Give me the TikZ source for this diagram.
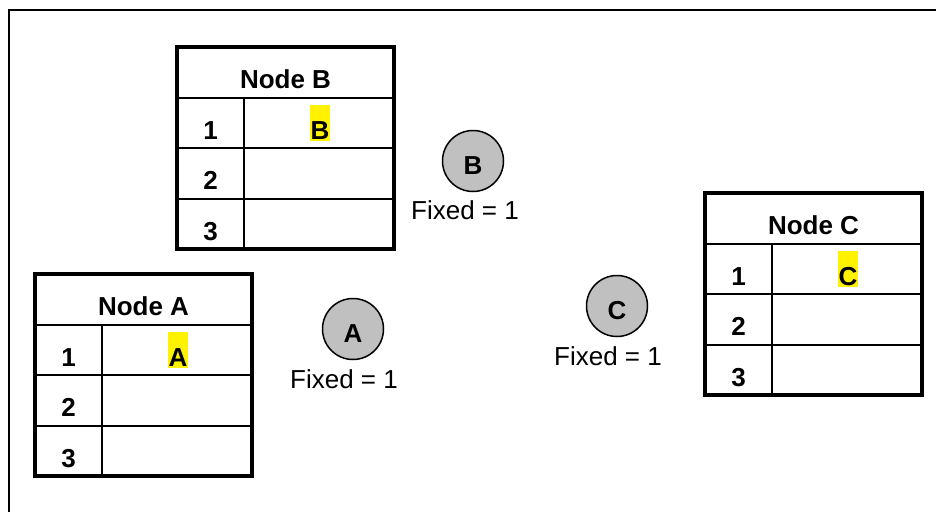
\documentclass[tikz,border=0pt]{standalone}
\usepackage{fontspec}
\setmainfont{Liberation Sans}
\definecolor{ballgray}{HTML}{C0C0C0}
\tikzset{
  outerline/.style={line width=4.5pt},
  innerline/.style={line width=2pt},
  framestyle/.style={line width=2pt},
  celltext/.style={anchor=base, inner sep=0pt, font=\bfseries\fontsize{26}{30}\selectfont},
  hilite/.style={celltext, fill=yellow, inner xsep=1pt, text height=34pt, text depth=1.5pt},
  ball/.style={circle, draw, line width=1.5pt, fill=ballgray, minimum size=61pt, inner sep=0pt,
    text height=27pt, text depth=0pt, font=\bfseries\fontsize{26}{30}\selectfont},
  fixedlabel/.style={anchor=base, inner sep=0pt, font=\fontsize{26}{30}\selectfont}
}
\newcommand\mytable[5]{%
  \begin{scope}[shift={(#2,#3)}]
    \draw[innerline] (0,50.5) -- (217,50.5) (0,101) -- (217,101) (0,151.5) -- (217,151.5) (67,50.5) -- (67,202);
    \draw[outerline] (0,0) rectangle (217,202);
    \node[celltext] (#1title) at (108.5,41.5) {#4};
    \node[celltext] (#1one) at (33.5,92) {1};
    \node[celltext] (#1two) at (33.5,142.5) {2};
    \node[celltext] (#1three) at (33.5,193) {3};
    \node[hilite] (#1val) at (143,92) {#5};
  \end{scope}}
\begin{document}
\begin{tikzpicture}[x=1pt,y=-1pt]
  \useasboundingbox (0,0) rectangle (936,511);
  \clip (0,0) rectangle (936,511);
  \fill[white] (0,0) rectangle (936,511);
  \draw[framestyle] (9,520) -- (9,10) -- (945,10);
  \mytable{ta}{35}{274}{Node A}{A}
  \mytable{tb}{177}{47}{Node B}{B}
  \mytable{tc}{705}{193}{Node C}{C}
  \node[ball] (ca) at (353,329) {A};
  \node[ball] (cb) at (473,161) {B};
  \node[ball] (cc) at (617,306) {C};
  \node[fixedlabel] (fa) at (344,388) {Fixed = 1};
  \node[fixedlabel] (fb) at (465,219) {Fixed = 1};
  \node[fixedlabel] (fc) at (608,365) {Fixed = 1};
\end{tikzpicture}
\end{document}
